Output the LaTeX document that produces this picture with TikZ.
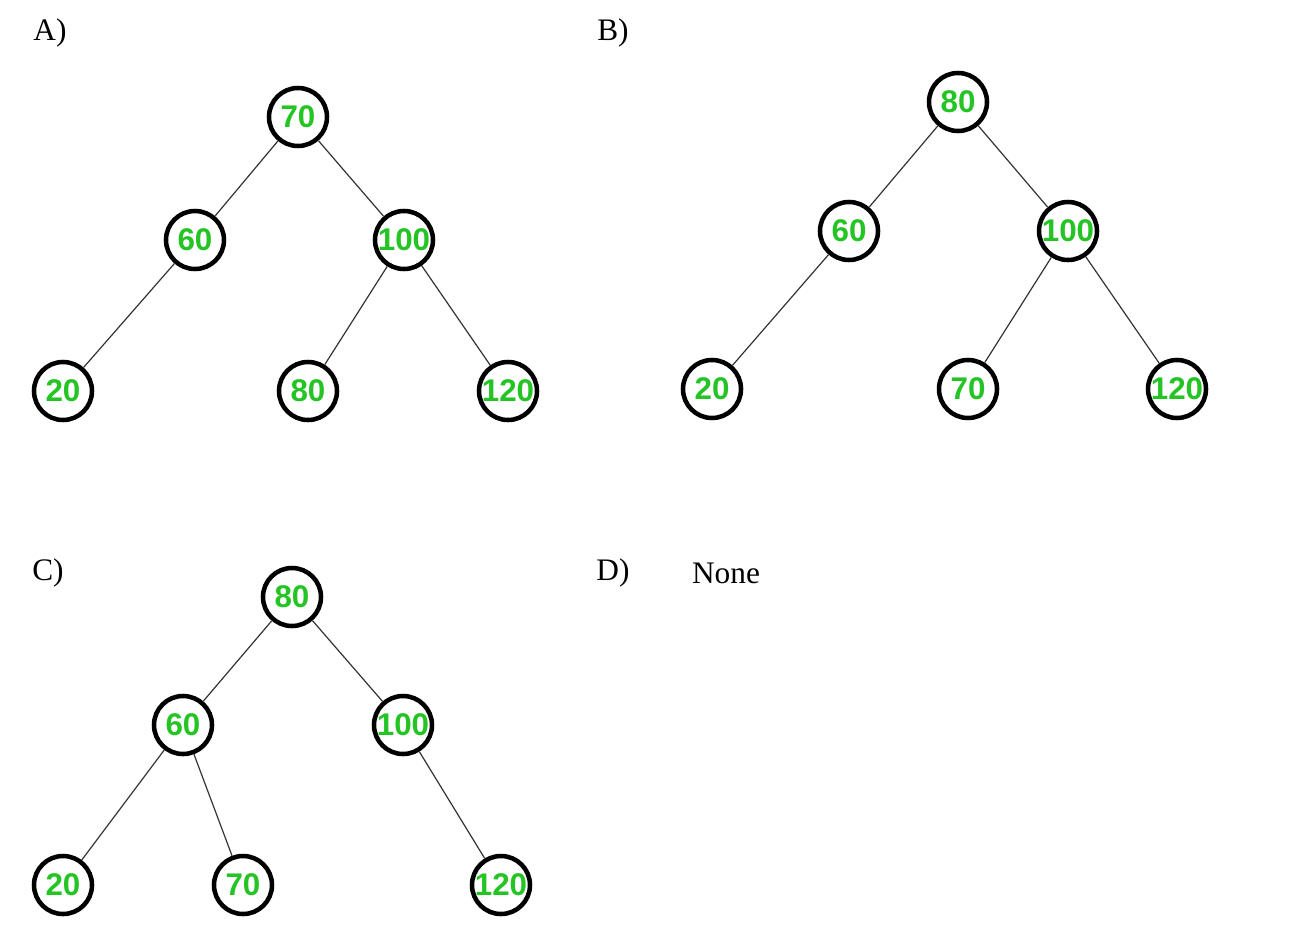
\documentclass[tikz,border=0pt]{standalone}
\usepackage{fontspec}
\setmainfont{Liberation Serif}
\newfontfamily\numfont{Liberation Sans}
\definecolor{numgreen}{RGB}{36,196,36}
\begin{document}
\begin{tikzpicture}[x=0.75pt,y=-0.75pt,
  tn/.style={circle,draw=black,line width=3.4pt,fill=white,minimum size=43.5pt,inner sep=0pt,
    font=\numfont\fontsize{23.5}{23.5}\selectfont\bfseries,text=numgreen},
  lab/.style={font=\fontsize{23.5}{26}\selectfont,anchor=center,inner sep=0pt},
  edge/.style={draw=black!80,line width=0.9pt}]
\useasboundingbox (0,0) rectangle (1290,946);
% labels
\node[lab] (la) at (50,33) {A)};
\node[lab] (lb) at (613,33) {B)};
\node[lab] (lc) at (48,573) {C)};
\node[lab] (ld) at (613,573) {D)};
\node[lab] (none) at (726,573) {None};
% Tree A
\node[tn] (a70) at (298,117) {70};
\node[tn] (a60) at (195,240) {60};
\node[tn] (a100) at (404,240) {100};
\node[tn] (a20) at (63,391) {20};
\node[tn] (a80) at (308,391) {80};
\node[tn] (a120) at (508,391) {120};
\draw[edge] (a70) -- (a60);
\draw[edge] (a70) -- (a100);
\draw[edge] (a60) -- (a20);
\draw[edge] (a100) -- (a80);
\draw[edge] (a100) -- (a120);
% Tree B
\node[tn] (b80) at (958,102) {80};
\node[tn] (b60) at (849,231) {60};
\node[tn] (b100) at (1068,231) {100};
\node[tn] (b20) at (712,389) {20};
\node[tn] (b70) at (968,389) {70};
\node[tn] (b120) at (1177,389) {120};
\draw[edge] (b80) -- (b60);
\draw[edge] (b80) -- (b100);
\draw[edge] (b60) -- (b20);
\draw[edge] (b100) -- (b70);
\draw[edge] (b100) -- (b120);
% Tree C
\node[tn] (c80) at (292,597) {80};
\node[tn] (c60) at (183,725) {60};
\node[tn] (c100) at (403,725) {100};
\node[tn] (c20) at (63,885) {20};
\node[tn] (c70) at (243,885) {70};
\node[tn] (c120) at (501,885) {120};
\draw[edge] (c80) -- (c60);
\draw[edge] (c80) -- (c100);
\draw[edge] (c60) -- (c20);
\draw[edge] (c60) -- (c70);
\draw[edge] (c100) -- (c120);
\end{tikzpicture}
\end{document}
